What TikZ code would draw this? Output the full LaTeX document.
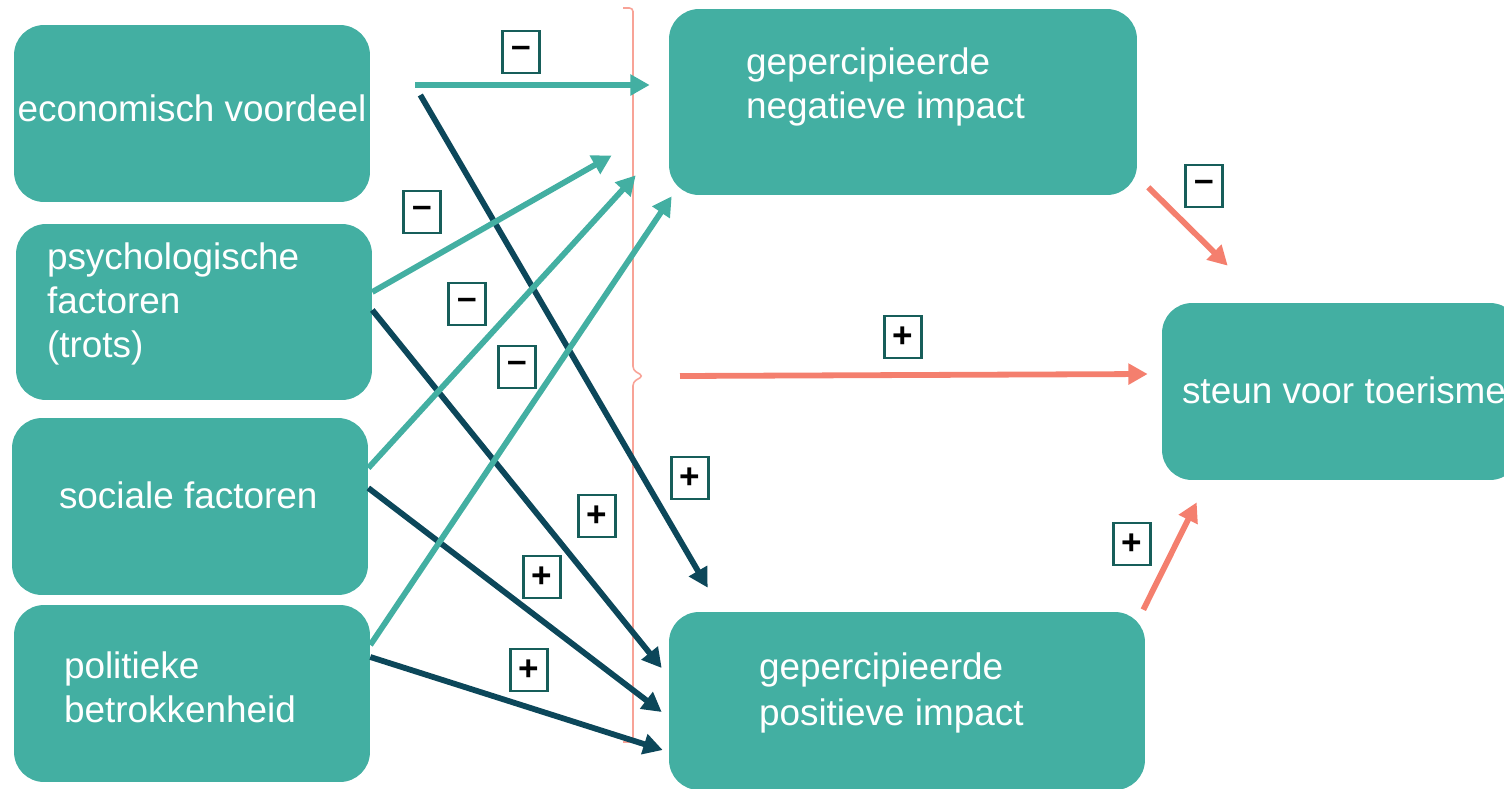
\documentclass[tikz,border=0pt]{standalone}
\usepackage{fontspec}
\setmainfont{Liberation Sans}
\usetikzlibrary{arrows.meta, positioning}
\definecolor{boxteal}{HTML}{43AFA2}
\definecolor{darkblue}{HTML}{0C475A}
\definecolor{salmon}{HTML}{F47F6E}
\definecolor{bracesalmon}{HTML}{F8A397}
\definecolor{signline}{HTML}{175E5A}

\begin{document}
\begin{tikzpicture} [x = 0.02cm, y = -0.02cm,
    boxnode/.style = {fill=boxteal, rounded corners=0.6cm, inner sep=0pt},
    boxtext/.style = {text=white, font=\fontsize{21}{25}\selectfont, align=left, inner sep=0pt},
    signbox/.style = {draw=signline, line width=1.5pt, fill=white, minimum width=0.74cm,
        minimum height=0.84cm, inner sep=0pt, font=\fontsize{20}{20}\selectfont\bfseries},
    toneg/.style = {color=boxteal, line width=3.3pt, -{Triangle[length=11pt, width=11.5pt]}},
    topos/.style = {color=darkblue, line width=3.3pt, -{Triangle[length=11pt, width=11.5pt]}},
    tosteun/.style = {color=salmon, line width=3.3pt, -{Triangle[length=11pt, width=11.5pt]}},
    bracket/.style = {draw=bracesalmon, line width=0.9pt, rounded corners=2pt}]
    \useasboundingbox (0,0) rectangle (1504,788);

    % factors
    \node (eco) [boxnode, minimum width=7.12cm, minimum height=3.54cm] at (192,113.5) {};
    \node (psy) [boxnode, minimum width=7.12cm, minimum height=3.52cm] at (194,312) {};
    \node (soc) [boxnode, minimum width=7.12cm, minimum height=3.54cm] at (190,506.5) {};
    \node (pol) [boxnode, minimum width=7.12cm, minimum height=3.54cm] at (192,693.5) {};
    % impacts
    \node (neg) [boxnode, minimum width=9.36cm, minimum height=3.72cm] at (903,102) {};
    \node (pos) [boxnode, minimum width=9.52cm, minimum height=3.56cm] at (907,701) {};
    \node (steun) [boxnode, minimum width=7.16cm, minimum height=3.54cm] at (1341,391.5) {};

    \node (ecoTxt) [boxtext, anchor=center, yshift=0.1cm] at (eco) {economisch voordeel};
    \node (psyTxt) [boxtext, right=0.62cm of psy.west, yshift=0.16cm] {psychologische\\factoren\\(trots)};
    \node (socTxt) [boxtext, right=0.94cm of soc.west, yshift=0.23cm] {sociale factoren};
    \node (polTxt) [boxtext, right=1.0cm of pol.west, yshift=0.13cm] {politieke\\betrokkenheid};
    \node (negTxt) [boxtext, right=1.54cm of neg.west, yshift=0.3cm] {gepercipieerde\\negatieve impact};
    \node (posTxt) [boxtext, right=1.8cm of pos.west, yshift=0.16cm] {gepercipieerde\\[1pt]positieve impact};
    \node (steunTxt) [boxtext, right=0.4cm of steun.west, yshift=0.03cm] {steun voor toerisme};

    % bracket
    \coordinate (bracetip) at (643,376);
    \draw [bracket] (623,8) -- (633,8) -- (633,370) -- (bracetip) -- (633,382) -- (633,742) -- (623,742);

    \draw [toneg] ([shift={(45,-28.5)}]eco.east) -- ([shift={(-19,-17)}]neg.west);
    \draw [topos] ([shift={(50,-18.5)}]eco.east) -- ([shift={(39,-24)}]pos.north west);
    \draw [toneg] ([shift={(0,-20)}]psy.east) -- ([shift={(-57,-40)}]neg.south west);
    \draw [topos] ([shift={(0,-2)}]psy.east) -- ([shift={(-7,-33)}]pos.west);
    \draw [toneg] ([shift={(0,-38.5)}]soc.east) -- ([shift={(-33,-20)}]neg.south west);
    \draw [topos] ([shift={(0,-18.5)}]soc.east) -- ([shift={(-7,11)}]pos.west);
    \draw [toneg] ([shift={(0,-48.5)}]pol.east) -- ([shift={(3,1)}]neg.south west);
    \draw [topos] ([shift={(0,-36.5)}]pol.east) -- ([shift={(-6,49)}]pos.west);
    \draw [tosteun] ([shift={(11,-8)}]neg.south east) -- ([shift={(66,-37)}]steun.north west);
    \draw [tosteun] ([shift={(37,0)}]bracetip) -- ([shift={(-14,-17.5)}]steun.west);
    \draw [tosteun] ([shift={(-2,-2)}]pos.north east) -- ([shift={(35,22)}]steun.south west);

    % signs
    \node (sgnA) [signbox] at (521,52) {–};
    \node (sgnB) [signbox] at (690,478) {+};
    \node (sgnC) [signbox] at (422,212) {–};
    \node (sgnD) [signbox] at (597,516) {+};
    \node (sgnE) [signbox] at (467,304) {–};
    \node (sgnF) [signbox] at (542,577) {+};
    \node (sgnG) [signbox] at (517,367) {–};
    \node (sgnH) [signbox] at (529,670) {+};
    \node (sgnI) [signbox] at (1204,186) {–};
    \node (sgnJ) [signbox] at (903,337) {+};
    \node (sgnK) [signbox] at (1132,544) {+};
\end{tikzpicture}
\end{document}
